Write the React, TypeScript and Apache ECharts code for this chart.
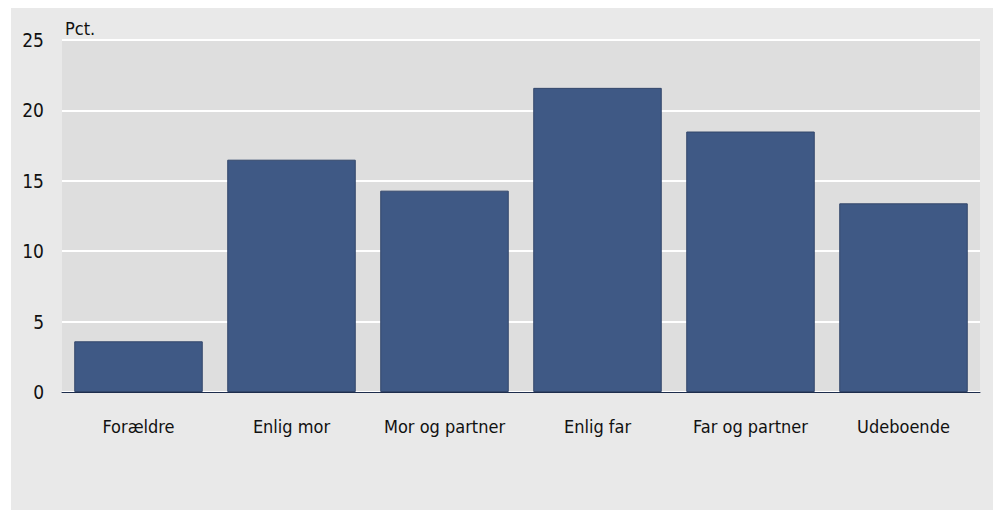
import React, { useEffect, useRef } from "react";
import * as echarts from "echarts";

const categories = ["Forældre", "Enlig mor", "Mor og partner", "Enlig far", "Far og partner", "Udeboende"];
const values = [3.6, 16.5, 14.3, 21.6, 18.5, 13.4];
const yTicks = { min: 0, max: 25, interval: 5 };
const unitLabel = "Pct.";

export default function App() {
  const ref = useRef<HTMLDivElement>(null);
  useEffect(() => {
    if (!ref.current) return;
    const chart = echarts.init(ref.current, null, { renderer: "svg" });
    const font = "'DejaVu Sans Condensed', 'Open Sans', sans-serif";
    chart.setOption({
      animation: false,
      backgroundColor: "#ffffff",
      textStyle: { fontFamily: font },
      graphic: [
        { type: "rect", shape: { x: 11, y: 8, width: 982, height: 502 }, style: { fill: "#e9e9e9" }, z: -10, silent: true },
        { type: "text", left: 65, top: 19, style: { text: unitLabel, font: `18px ${font}`, fill: "#111" } },
      ],
      grid: {
        left: 62,
        right: 17,
        top: 40,
        bottom: 118,
        show: true,
        backgroundColor: "#dedede",
        borderWidth: 0,
      },
      xAxis: {
        type: "category",
        data: categories,
        axisLine: { show: true, lineStyle: { color: "#1d2d4d", width: 1 } },
        axisTick: { show: false },
        axisLabel: { color: "#111", fontSize: 18, margin: 25, interval: 0, fontFamily: font },
      },
      yAxis: {
        type: "value",
        min: yTicks.min,
        max: yTicks.max,
        interval: yTicks.interval,
        axisLine: { show: false },
        axisTick: { show: false },
        axisLabel: { color: "#111", fontSize: 19, margin: 18, fontFamily: font },
        splitLine: { show: true, lineStyle: { color: "#ffffff", width: 2 } },
      },
      series: [
        {
          type: "bar",
          data: values,
          barCategoryGap: "16%",
          itemStyle: { color: "#3f5985", borderColor: "#33476b", borderWidth: 1 },
        },
      ],
    });
    return () => chart.dispose();
  }, []);
  return <div ref={ref} style={{ position: "fixed", left: 0, top: 0, width: 997, height: 510 }} />;
}
